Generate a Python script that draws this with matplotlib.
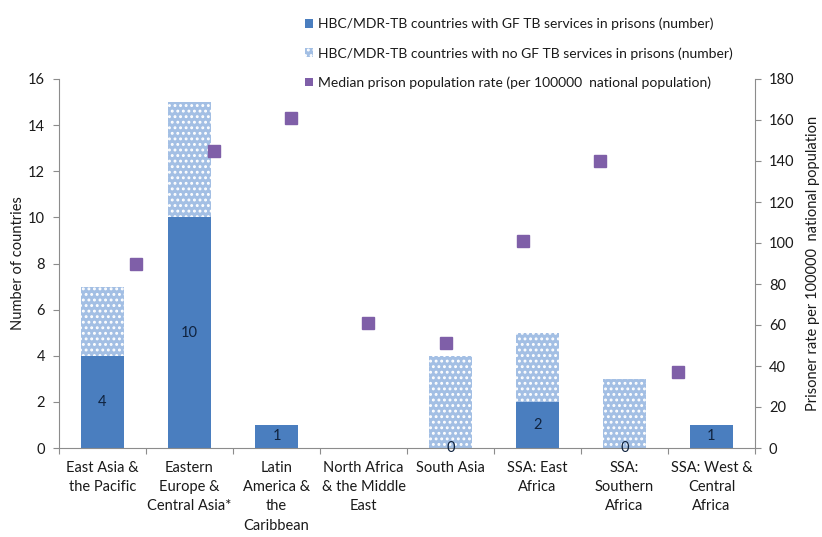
import matplotlib
matplotlib.use("Agg")
import matplotlib.pyplot as plt
import numpy as np

plt.rcParams['font.family'] = ['Lato', 'DejaVu Sans']
plt.rcParams['hatch.linewidth'] = 1.3

categories = ["East Asia &\nthe Pacific", "Eastern\nEurope &\nCentral Asia*",
              "Latin\nAmerica &\nthe\nCaribbean", "North Africa\n& the Middle\nEast",
              "South Asia", "SSA: East\nAfrica", "SSA:\nSouthern\nAfrica",
              "SSA: West &\nCentral\nAfrica"]
with_gf = [4, 10, 1, 0, 0, 2, 0, 1]
no_gf = [3, 5, 0, 0, 4, 3, 3, 0]
prison_rate = [90, 145, 161, 61, 51, 101, 140, 37]
# categories that carry a data label on the GF series
labelled = [True, True, True, False, True, True, True, True]

left_ticks = [0, 2, 4, 6, 8, 10, 12, 14, 16]
right_ticks = [0, 20, 40, 60, 80, 100, 120, 140, 160, 180]

dark = '#4a7ebf'
light = '#a3bfe4'
purple = '#7f5fa8'
axis_gray = '#8c8c8c'
text_col = '#1a1a1a'

fig = plt.figure(figsize=(8.22, 5.37), dpi=100)
L, B, W, H = 59/822, 1-448/537, (755-59)/822, (448-79)/537
ax = fig.add_axes([L, B, W, H])
x = np.arange(len(categories))
ax.bar(x, with_gf, width=0.49, color=dark, linewidth=0, zorder=2)
ax.bar(x, no_gf, width=0.49, bottom=with_gf, color=light, edgecolor='white',
       hatch='...', linewidth=0, zorder=2)
ax.set_xlim(-0.5, len(categories) - 0.5)
ax.set_ylim(0, 16)
ax.set_yticks(left_ticks)
ax.set_xticks(np.arange(len(categories) + 1) - 0.5, minor=False)
ax.set_xticklabels([])
ax.set_xticks(x, minor=True)
ax.set_xticklabels(categories, minor=True, fontsize=10.5, color=text_col, linespacing=1.5)
ax.tick_params(axis='x', which='minor', length=0, pad=9)
ax.tick_params(axis='x', which='major', length=4, color=axis_gray, direction='out')
ax.tick_params(axis='y', length=4, color=axis_gray, labelsize=10.5, labelcolor=text_col, pad=6)
for s in ['top', 'right']:
    ax.spines[s].set_visible(False)
for s in ['left', 'bottom']:
    ax.spines[s].set_color(axis_gray)
ax.set_ylabel("Number of countries", fontsize=10.5, color=text_col, labelpad=2)

for xi, v, show in zip(x, with_gf, labelled):
    if not show:
        continue
    ax.text(xi, v / 2, str(v), ha='center', va='center', fontsize=10.5,
            color='#10233f', zorder=3)

# secondary axis for the prison rate markers
ax2 = fig.add_axes([L, B, W, H], facecolor='none')
ax2.set_xlim(0, len(categories) + 1)
ax2.set_ylim(0, 180)
ax2.plot(np.arange(1, len(categories) + 1), prison_rate, linestyle='none', marker='s',
         markersize=8.5, color=purple, zorder=4)
ax2.yaxis.tick_right()
ax2.yaxis.set_label_position('right')
ax2.set_yticks(right_ticks)
ax2.set_xticks([])
for s in ['top', 'left', 'bottom']:
    ax2.spines[s].set_visible(False)
ax2.spines['right'].set_color(axis_gray)
ax2.tick_params(axis='y', length=4, color=axis_gray, labelsize=10.5, labelcolor=text_col, pad=6)
ax2.set_ylabel("Prisoner rate per 100000  national population", fontsize=10.5,
               color=text_col, labelpad=8)

# legend
from matplotlib.patches import Patch
handles = [Patch(facecolor=dark, linewidth=0),
           Patch(facecolor=light, edgecolor='white', hatch='...', linewidth=0),
           Patch(facecolor=purple, linewidth=0)]
labels = ["HBC/MDR-TB countries with GF TB services in prisons (number)",
          "HBC/MDR-TB countries with no GF TB services in prisons (number)",
          "Median prison population rate (per 100000  national population)"]
fig.legend(handles, labels, loc='upper left', bbox_to_anchor=(298/822, 1-11/537),
           frameon=False, fontsize=10, handlelength=0.6, handleheight=0.6,
           handletextpad=0.35, labelspacing=1.2, borderpad=0, labelcolor=text_col)

fig.savefig("out.png", dpi=100)
